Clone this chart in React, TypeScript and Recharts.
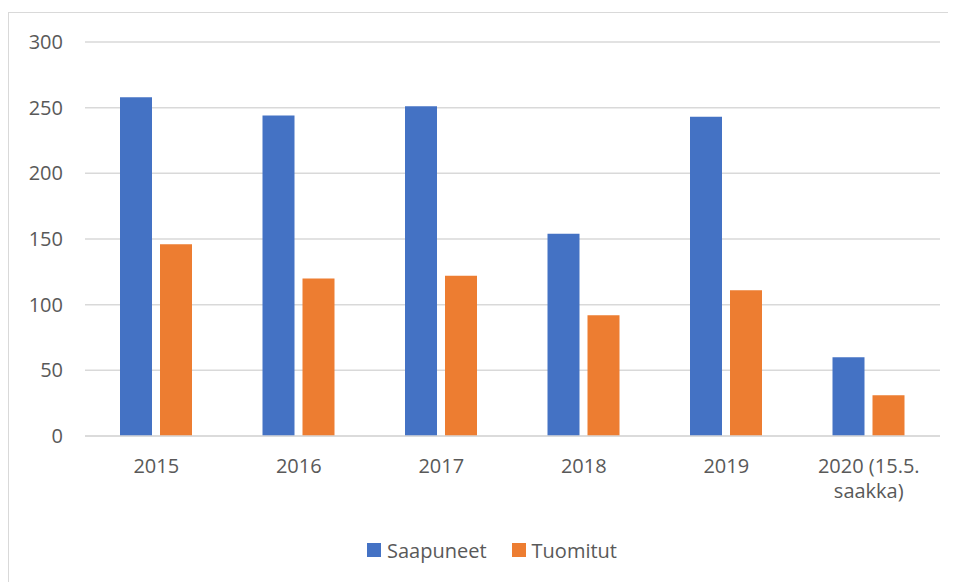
import { BarChart, Bar, XAxis, YAxis, CartesianGrid, Legend } from 'recharts';

const years = ['2015', '2016', '2017', '2018', '2019', '2020 (15.5. saakka)'];
const saapuneet = [258, 244, 251, 154, 243, 60];
const tuomitut = [146, 120, 122, 92, 111, 31];
const yTicks = [0, 50, 100, 150, 200, 250, 300];

const data = years.map((year, i) => ({
  year,
  Saapuneet: saapuneet[i],
  Tuomitut: tuomitut[i],
}));

const FONT = '"Open Sans", "Noto Sans", sans-serif';
const TEXT = '#595959';
const GRID = '#d9d9d9';
const BLUE = '#4472C4';
const ORANGE = '#ED7D31';
const MAX_CHARS = 12;

// greedy word wrap for category labels
function wrapLabel(label: string): string[] {
  const lines: string[] = [];
  let cur = '';
  for (const w of label.split(' ')) {
    const next = cur ? `${cur} ${w}` : w;
    if (next.length > MAX_CHARS && cur) {
      lines.push(cur);
      cur = w;
    } else {
      cur = next;
    }
  }
  if (cur) lines.push(cur);
  return lines;
}

function YearTick(props: any) {
  const { x, y, payload } = props;
  const lines = wrapLabel(String(payload?.value ?? ''));
  return (
    <text
      x={x}
      y={y}
      textAnchor="middle"
      fontSize={20}
      fontFamily={FONT}
      fill={TEXT}
    >
      {lines.map((l, i) => (
        <tspan key={i} x={x} dy={i === 0 ? '0.71em' : 25}>
          {l}
        </tspan>
      ))}
    </text>
  );
}

function LegendBox() {
  const items = [
    { name: 'Saapuneet', color: BLUE },
    { name: 'Tuomitut', color: ORANGE },
  ];
  return (
    <div
      style={{
        display: 'flex',
        justifyContent: 'center',
        alignItems: 'center',
        gap: 25,
        paddingLeft: 20,
        height: 24,
        fontFamily: FONT,
        fontSize: 20,
        color: TEXT,
      }}
    >
      {items.map((it) => (
        <span key={it.name} style={{ display: 'flex', alignItems: 'center', gap: 6 }}>
          <span style={{ display: 'inline-block', width: 14, height: 14, background: it.color }} />
          <span>{it.name}</span>
        </span>
      ))}
    </div>
  );
}

export default function App() {
  return (
    <div style={{ position: 'relative', width: 948, height: 574, background: '#fff' }}>
      <div
        style={{
          position: 'absolute',
          top: 4,
          left: 0,
          width: 948,
          height: 570,
          borderTop: `1px solid ${GRID}`,
          borderLeft: `1px solid ${GRID}`,
          boxSizing: 'border-box',
        }}
      />
      <div style={{ position: 'absolute', top: 0, left: 0 }}>
        <BarChart
          width={948}
          height={574}
          data={data}
          margin={{ top: 34, right: 16, bottom: 42, left: 0 }}
          barSize={32}
          barGap={8}
        >
          <CartesianGrid vertical={false} stroke={GRID} strokeWidth={1.5} />
          <XAxis
            dataKey="year"
            tick={<YearTick />}
            tickLine={false}
            tickSize={0}
            tickMargin={23}
            axisLine={{ stroke: GRID, strokeWidth: 1.5 }}
            height={80}
            interval={0}
          />
          <YAxis
            domain={[0, 300]}
            ticks={yTicks}
            width={77}
            tickLine={false}
            tickSize={0}
            tickMargin={22}
            axisLine={false}
            tick={{ fontSize: 20, fontFamily: FONT, fill: TEXT }}
          />
          <Legend
            verticalAlign="bottom"
            content={<LegendBox />}
            wrapperStyle={{ top: 530, left: 0, width: 948, height: 24 }}
          />
          <Bar dataKey="Saapuneet" fill={BLUE} isAnimationActive={false} />
          <Bar dataKey="Tuomitut" fill={ORANGE} isAnimationActive={false} />
        </BarChart>
      </div>
    </div>
  );
}
